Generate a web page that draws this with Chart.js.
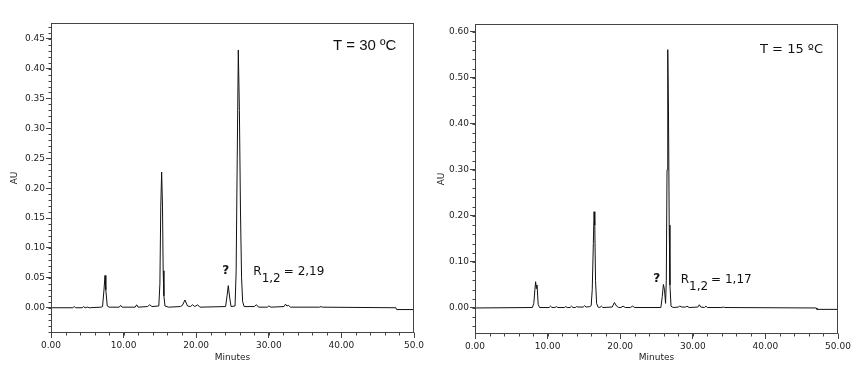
<!DOCTYPE html>
<html>
<head>
<meta charset="utf-8">
<script src="https://cdn.jsdelivr.net/npm/chart.js@4.4.0/dist/chart.umd.min.js"></script>
<style>
  body { margin: 0; background: #fff; width: 864px; height: 381px; overflow: hidden; position: relative; }
  .painel { position: absolute; top: 0; width: 432px; height: 381px; }
</style>
</head>
<body>
<div class="painel" style="left:0"><canvas id="crom30" width="432" height="381"></canvas></div>
<div class="painel" style="left:432px"><canvas id="crom15" width="432" height="381"></canvas></div>
<script>
// =========================
// DADOS - T = 30 ºC (lidos do cromatograma)
// =========================
const tempo30 = [
  0, 3.0, 3.2, 3.4, 4.3, 4.5, 4.7, 5.0, 5.3,
  6.9, 7.1, 7.3, 7.44, 7.55, 7.75, 8.0,
  9.4, 9.6, 9.8, 11.6, 11.8, 12.0, 13.3, 13.6, 13.9,
  14.85, 15.0, 15.12, 15.24, 15.36, 15.45, 15.55, 15.7, 16.2,
  17.8, 18.1, 18.45, 18.8, 19.2, 19.5, 19.8, 20.2, 20.5,
  24.05, 24.25, 24.42, 24.6, 24.8, 25.35,
  25.5, 25.65, 25.8, 25.95, 26.1, 26.25, 26.4, 26.6,
  28.0, 28.3, 28.6, 29.8, 30.0, 30.3, 32.1, 32.3, 32.5, 32.7, 33.0,
  37.0, 37.2, 37.4, 47.5, 47.6, 50
];
const au30 = [
  0, 0, 0.002, 0, 0, 0.002, 0, 0.001, 0,
  0.001, 0.002, 0.03, 0.054, 0.03, 0.003, 0.001,
  0.001, 0.004, 0.001, 0.001, 0.005, 0.001, 0.002, 0.005, 0.002,
  0.003, 0.04, 0.17, 0.227, 0.17, 0.062, 0.02, 0.003, 0.001,
  0.002, 0.004, 0.013, 0.003, 0.002, 0.005, 0.002, 0.005, 0.001,
  0.002, 0.02, 0.037, 0.018, 0.002, 0.003,
  0.06, 0.25, 0.431, 0.33, 0.16, 0.05, 0.01, 0.002,
  0.002, 0.005, 0.001, 0.001, 0.003, 0.001, 0.002, 0.006, 0.003, 0.004, 0.001,
  0.001, 0.002, 0.001, 0, -0.003, -0.003
];

// =========================
// DADOS - T = 15 ºC
// =========================
const tempo15 = [
  0, 7.9, 8.1, 8.25, 8.35, 8.45, 8.55, 8.7, 8.9,
  10.2, 10.4, 10.6, 11.0, 11.2, 11.4, 12.3, 12.5, 12.7,
  13.1, 13.3, 13.5, 13.8, 14.0, 14.2, 14.9, 15.1, 15.3, 15.8,
  16.0, 16.15, 16.3, 16.4, 16.5, 16.6, 16.75, 16.95,
  17.2, 17.4, 17.6, 18.9, 19.2, 19.5, 19.8, 20.1, 20.4, 20.7, 21.4, 21.7, 22.0,
  25.6, 25.8, 25.95, 26.1, 26.25, 26.35, 26.45, 26.55, 26.65, 26.75, 26.85, 27.0, 27.3,
  28.0, 28.2, 28.5, 29.0, 29.2, 29.5,
  30.7, 30.9, 31.1, 31.6, 31.8, 32.0,
  34.0, 34.2, 34.4, 47.0, 47.1, 50
];
const au15 = [
  0, 0.001, 0.01, 0.04, 0.057, 0.042, 0.05, 0.008, 0.001,
  0.001, 0.004, 0.001, 0.001, 0.003, 0.001, 0.001, 0.003, 0.001,
  0.001, 0.004, 0.001, 0.001, 0.003, 0.002, 0.002, 0.005, 0.002, 0.003,
  0.005, 0.04, 0.14, 0.209, 0.18, 0.06, 0.01, 0.002,
  0.001, 0.004, 0.001, 0.002, 0.012, 0.004, 0.001, 0.001, 0.004, 0.001, 0.001, 0.004, 0.001,
  0.001, 0.025, 0.051, 0.04, 0.01, 0.06, 0.3, 0.561, 0.43, 0.18, 0.05, 0.004, 0.001,
  0.002, 0.004, 0.002, 0.002, 0.004, 0.001,
  0.002, 0.007, 0.002, 0.001, 0.004, 0.001,
  0.001, 0.002, 0.001, 0, -0.003, -0.003
];

// =========================
// EIXOS
// =========================
const ticksMinutos = [0, 10, 20, 30, 40, 50];
const rotulosMinutos30 = ["0.00", "10.00", "20.00", "30.00", "40.00", "50.0"];
const rotulosMinutos15 = ["0.00", "10.00", "20.00", "30.00", "40.00", "50.00"];
const ticksAU30 = [0, 0.05, 0.10, 0.15, 0.20, 0.25, 0.30, 0.35, 0.40, 0.45];
const ticksAU15 = [0, 0.10, 0.20, 0.30, 0.40, 0.50, 0.60];

const COR_TRACO = "#111";
const COR_EIXO = "#444";
const COR_TEXTO = "#222";

// moldura + ticks menores + anotações
const molduraPlugin = {
  id: "moldura",
  afterDraw(chart, args, opts) {
    const { ctx, chartArea: a, scales: { x, y } } = chart;
    ctx.save();
    ctx.strokeStyle = COR_EIXO;
    ctx.lineWidth = 1;
    const l = Math.round(a.left) + 0.5, t = Math.round(a.top) + 0.5;
    const r = Math.round(a.right) - 0.5, b = Math.round(a.bottom) - 0.5;
    ctx.strokeRect(l, t, r - l, b - t);

    // ticks menores
    ctx.beginPath();
    for (let v = 0; v <= x.max + 1e-9; v += opts.passoX) {
      const px = Math.round(x.getPixelForValue(v)) + 0.5;
      ctx.moveTo(px, b); ctx.lineTo(px, b + 3);
    }
    const n0 = Math.ceil(y.min / opts.passoY - 1e-6);
    for (let k = n0; k * opts.passoY <= y.max + 1e-9; k++) {
      const py = Math.round(y.getPixelForValue(k * opts.passoY)) + 0.5;
      ctx.moveTo(l, py); ctx.lineTo(l - 3, py);
    }
    ctx.stroke();

    // anotações
    ctx.fillStyle = "#111";
    opts.textos.forEach(tx => {
      ctx.font = tx.fonte;
      ctx.textAlign = tx.alinh || "left";
      ctx.textBaseline = tx.base || "alphabetic";
      const px = x.getPixelForValue(tx.t), py = y.getPixelForValue(tx.au);
      ctx.fillText(tx.texto, px, py);
      if (tx.sub) {
        const w = ctx.measureText(tx.texto).width;
        ctx.fillText(tx.sub, px + w, py + 7);
        const ws = ctx.measureText(tx.sub).width;
        ctx.fillText(tx.resto, px + w + ws + 3, py);
      }
    });
    ctx.restore();
  }
};

function criarCromatograma(id, tempos, valores, cfg) {
  const ctx = document.getElementById(id);
  return new Chart(ctx, {
    type: "line",
    data: {
      datasets: [{
        data: tempos.map((t, i) => ({ x: t, y: valores[i] })),
        borderColor: COR_TRACO,
        borderWidth: 1,
        pointRadius: 0,
        tension: 0,
        fill: false
      }]
    },
    options: {
      responsive: false,
      animation: false,
      layout: { padding: cfg.padding },
      plugins: {
        legend: { display: false },
        tooltip: { enabled: false },
        moldura: { passoX: 2, passoY: cfg.passoY, textos: cfg.textos }
      },
      scales: {
        x: {
          type: "linear",
          min: 0, max: 50,
          afterBuildTicks: s => { s.ticks = ticksMinutos.map(v => ({ value: v })); },
          afterFit: s => { s.height = cfg.alturaX; },
          grid: { drawOnChartArea: false, tickLength: 5, color: COR_EIXO },
          border: { display: false },
          ticks: {
            color: COR_TEXTO, padding: 2, maxRotation: 0,
            font: { family: "DejaVu Sans", size: 9 },
            callback: (v, i) => cfg.rotulosX[i]
          },
          title: {
            display: true, text: "Minutes", color: COR_TEXTO,
            font: { family: "DejaVu Sans", size: 9 },
            padding: { top: 0, bottom: 18 }
          }
        },
        y: {
          min: cfg.yMin, max: cfg.yMax,
          afterBuildTicks: s => { s.ticks = cfg.ticksY.map(v => ({ value: v })); },
          afterFit: s => { s.width = cfg.larguraY; },
          grid: { drawOnChartArea: false, tickLength: 5, color: COR_EIXO },
          border: { display: false },
          ticks: {
            color: COR_TEXTO, padding: 1,
            font: { family: "DejaVu Sans", size: 9 },
            callback: v => v.toFixed(2)
          },
          title: {
            display: true, text: "AU", color: COR_TEXTO,
            font: { family: "DejaVu Sans", size: 9 },
            padding: { top: cfg.padTituloY, bottom: 0 }
          }
        }
      }
    },
    plugins: [molduraPlugin]
  });
}

criarCromatograma("crom30", tempo30, au30, {
  padding: { left: 0, right: 18, top: 23, bottom: 0 },
  larguraY: 51, alturaX: 48, padTituloY: 9.6,
  yMin: -0.0422, yMax: 0.4762, ticksY: ticksAU30, passoY: 0.01,
  rotulosX: rotulosMinutos30,
  textos: [
    { texto: "T = 30 ºC", t: 38.84, au: 0.438, fonte: "15px 'Liberation Sans'", base: "middle" },
    { texto: "?", t: 24.06, au: 0.061, fonte: "bold 12px 'DejaVu Sans'", alinh: "center", base: "middle" },
    { texto: "R", sub: "1,2", resto: "= 2,19", t: 27.87, au: 0.0545, fonte: "12px 'DejaVu Sans'" }
  ]
});

criarCromatograma("crom15", tempo15, au15, {
  padding: { left: 0, right: 26, top: 24, bottom: 0 },
  larguraY: 43, alturaX: 47, padTituloY: 4.6,
  yMin: -0.0565, yMax: 0.6167, ticksY: ticksAU15, passoY: 0.02,
  rotulosX: rotulosMinutos15,
  textos: [
    { texto: "T = 15 ºC", t: 39.26, au: 0.561, fonte: "13px 'DejaVu Sans'", base: "middle" },
    { texto: "?", t: 25.03, au: 0.0624, fonte: "bold 12px 'DejaVu Sans'", alinh: "center", base: "middle" },
    { texto: "R", sub: "1,2", resto: "= 1,17", t: 28.33, au: 0.0537, fonte: "12px 'DejaVu Sans'" }
  ]
});
</script>
</body>
</html>
